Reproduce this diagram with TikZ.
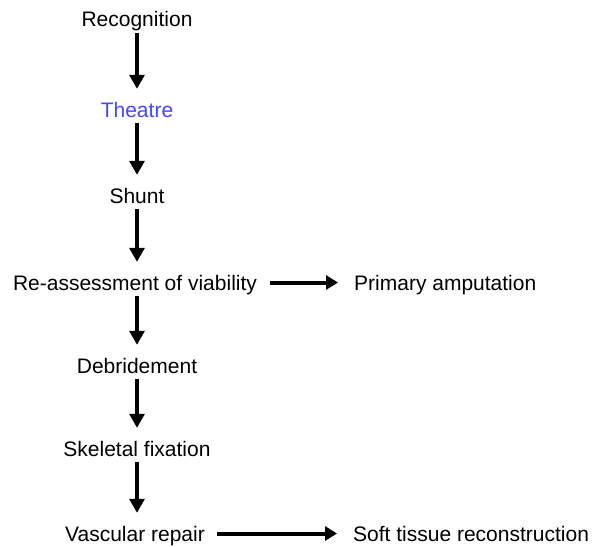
\documentclass[tikz,border=0pt]{standalone}
\usepackage{fontspec}
\setmainfont{Liberation Sans}
\usepackage{xcolor}
\usetikzlibrary{arrows.meta}

\definecolor{theatreblue}{RGB}{70,70,255}

\tikzset{
  stage/.style={inner sep=0pt, anchor=base, text height=15pt, text depth=0pt,
    font=\fontsize{21}{26}\selectfont},
  down/.style={line width=3.2pt, -{Triangle[width=15pt,length=14pt]},
    shorten <=6pt, shorten >=13pt},
  side/.style={line width=4pt, -{Triangle[width=14pt,length=12pt]}}
}

\begin{document}
\begin{tikzpicture}[x=1pt,y=-1pt]
\useasboundingbox (0,0) rectangle (594,546);

\node[stage] (rec) at (137,27) {Recognition};
\node[stage, text=theatreblue] (the) at (137,117) {Theatre};
\node[stage] (shu) at (137,203) {Shunt};
\node[stage] (rea) at (135,290) {Re-assessment of viability};
\node[stage, anchor=base west] (amp) at (354,290) {Primary amputation};
\node[stage] (deb) at (137,373) {Debridement};
\node[stage] (ske) at (137,456) {Skeletal fixation};
\node[stage] (vas) at (135,541) {Vascular repair};
\node[stage, anchor=base west] (sof) at (353,541) {Soft tissue reconstruction};

\draw[down] (rec) -- (the);
\draw[down] (the) -- (shu);
\draw[down] (shu) -- (rea.north -| shu);
\draw[down] (rea.south -| deb) -- (deb);
\draw[down] (deb) -- (ske);
\draw[down] (ske) -- (vas.north -| ske);

\draw[side, shorten <=13pt, shorten >=16pt] (rea) -- (amp);
\draw[side, shorten <=12pt, shorten >=16pt] (vas) -- (sof);

\end{tikzpicture}
\end{document}
